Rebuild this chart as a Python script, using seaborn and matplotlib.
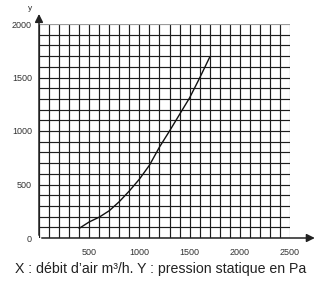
import matplotlib
matplotlib.use("Agg")
import matplotlib.pyplot as plt
import seaborn as sns
import numpy as np
import pandas as pd

# Data
debit = [400, 500, 600, 700, 800, 900, 1000, 1100, 1200, 1300, 1400, 1500, 1600, 1700]
pression = [90, 150, 195, 255, 340, 440, 550, 680, 850, 1000, 1155, 1310, 1495, 1690]
x_ticks = [500, 1000, 1500, 2000, 2500]
y_ticks = [0, 500, 1000, 1500, 2000]
caption = "X : débit d’air m³/h. Y : pression statique en Pa"

sns.set_style("white")
plt.rcParams['font.family'] = ['Liberation Sans', 'DejaVu Sans']

fig = plt.figure(figsize=(3.17, 2.82), dpi=100)
ax = fig.add_axes([39/317, (282-238)/282, (290-39)/317, (238-24)/282])

df = pd.DataFrame({"x": debit, "y": pression})

# grid
for gx in range(0, 2501, 100):
    ax.axvline(gx, color="#1e1e1e" if gx < 2500 else "#9a9a9a", lw=0.85, zorder=1)
for gy in range(0, 2001, 100):
    ax.axhline(gy, color="#1e1e1e" if gy < 2000 else "#9a9a9a", lw=0.85, zorder=1)

sns.lineplot(data=df, x="x", y="y", ax=ax, color="#111111", lw=1.0, zorder=3)

ax.set_xlim(0, 2500)
ax.set_ylim(0, 2000)
ax.set_xticks(x_ticks)
ax.set_yticks(y_ticks)
ax.set_xticklabels([str(v) for v in x_ticks])
ax.set_yticklabels([str(v) for v in y_ticks])
ax.tick_params(axis="both", labelsize=6.5, colors="#333333", length=3, width=0.8, pad=2)
ax.tick_params(axis="x", length=2, pad=5)
ax.set_xlabel("")
ax.set_ylabel("")
for s in ax.spines.values():
    s.set_visible(False)

# axis arrows
ax.annotate("", xy=(2775, 0), xytext=(0, 0), xycoords="data",
            arrowprops=dict(arrowstyle="-|>", color="#222222", lw=1.1, mutation_scale=12),
            annotation_clip=False)
ax.annotate("", xy=(0, 2120), xytext=(0, 0), xycoords="data",
            arrowprops=dict(arrowstyle="-|>", color="#222222", lw=1.1, mutation_scale=12),
            annotation_clip=False)
fig.text(30/317, 1 - 9/282, "y", fontsize=6, color="#333333", ha="center", va="center")

fig.text(161/317, 1 - 269/282, caption, fontsize=10.2, color="#222222", ha="center", va="center")

fig.savefig("out.png", dpi=100)
